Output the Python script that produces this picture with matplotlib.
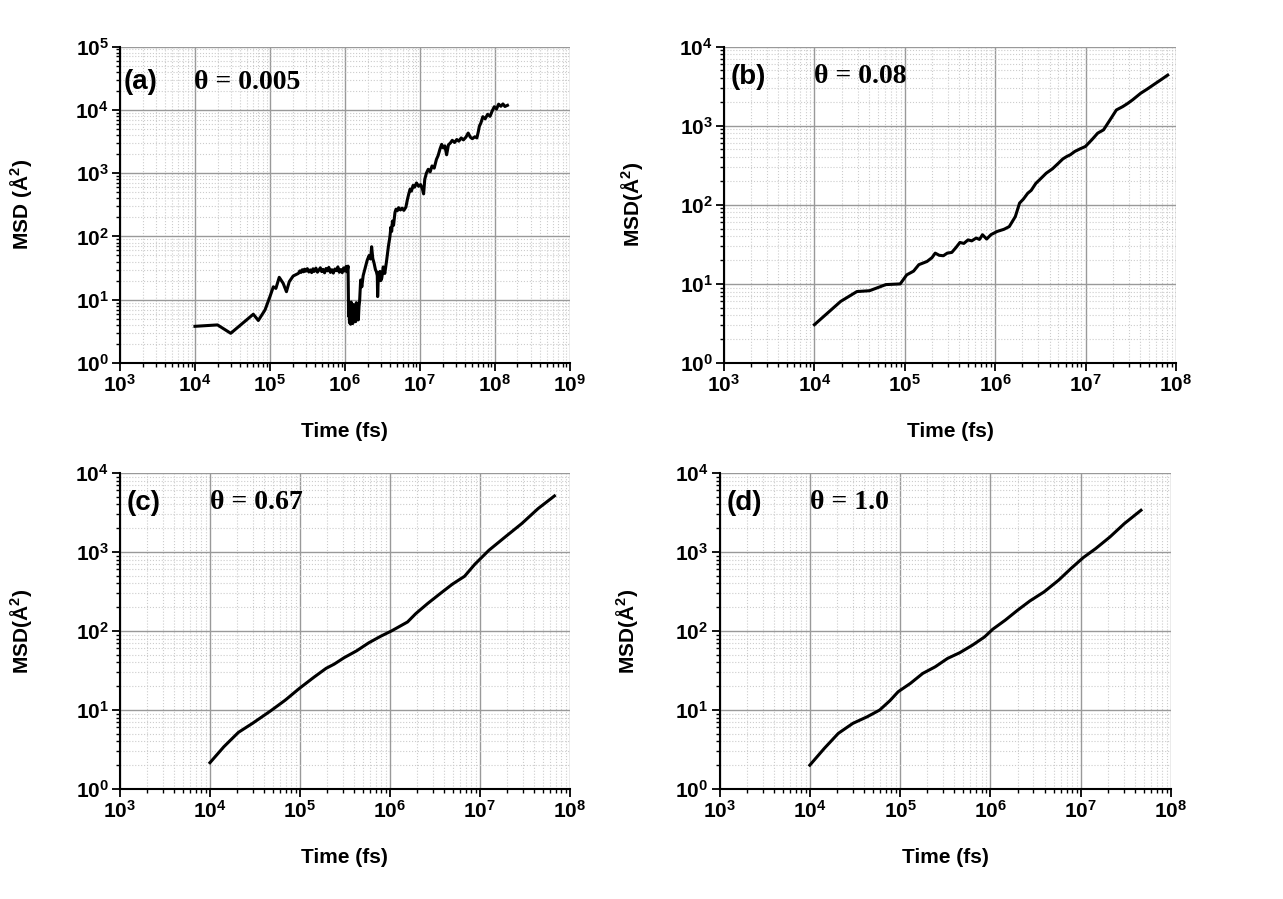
import numpy as np
import matplotlib.pyplot as plt
from matplotlib.ticker import LogLocator, FuncFormatter, NullFormatter

plt.rcParams['font.family'] = ['Liberation Sans', 'DejaVu Sans']
plt.rcParams['font.weight'] = 'bold'
plt.rcParams['mathtext.fontset'] = 'custom'
plt.rcParams['mathtext.rm'] = 'Liberation Sans:bold'
plt.rcParams['mathtext.bf'] = 'Liberation Sans:bold'
plt.rcParams['mathtext.it'] = 'Liberation Sans:bold'

# MSD curves, time in fs, MSD in A^2
t_a = [1.0e4, 2.0e4, 3.0e4, 6.0e4, 7.0e4, 8.6e4, 1.0e5, 1.11e5, 1.2e5, 1.33e5,
       1.5e5, 1.66e5, 1.81e5, 2.04e5, 2.2e5,
       2.4e5, 2.5e5, 2.6e5, 2.7e5, 2.8e5, 2.9e5, 3.0e5, 3.15e5, 3.3e5, 3.45e5,
       3.6e5, 3.75e5, 3.9e5, 4.1e5, 4.3e5, 4.5e5, 4.7e5, 4.9e5, 5.1e5, 5.35e5,
       5.6e5, 5.85e5, 6.1e5, 6.4e5, 6.7e5, 7.0e5, 7.35e5, 7.7e5, 8.05e5, 8.4e5,
       8.8e5, 9.2e5, 9.6e5, 1.0e6, 1.04e6, 1.07e6, 1.1e6,
       1.11e6, 1.12e6, 1.13e6, 1.15e6, 1.17e6, 1.19e6, 1.21e6, 1.23e6, 1.25e6, 1.27e6,
       1.3e6, 1.33e6, 1.36e6, 1.39e6, 1.42e6, 1.45e6, 1.48e6, 1.51e6, 1.54e6, 1.57e6,
       1.62e6, 1.68e6, 1.75e6, 1.85e6, 1.98e6, 2.1e6, 2.2e6, 2.27e6, 2.35e6, 2.45e6,
       2.55e6, 2.63e6, 2.7e6, 2.73e6, 2.8e6, 2.93e6, 3.0e6, 3.1e6, 3.24e6, 3.4e6,
       3.6e6, 3.8e6, 3.98e6, 4.1e6, 4.2e6, 4.3e6, 4.45e6, 4.65e6, 4.8e6, 5.0e6,
       5.2e6, 5.5e6, 5.8e6, 6.1e6, 6.5e6, 6.8e6, 7.1e6, 7.4e6, 7.7e6, 8.1e6,
       8.5e6, 9.0e6, 9.6e6, 1.02e7, 1.08e7, 1.12e7, 1.16e7, 1.22e7, 1.29e7, 1.37e7,
       1.45e7, 1.55e7, 1.66e7, 1.75e7, 1.85e7, 1.95e7, 2.05e7, 2.15e7, 2.27e7, 2.4e7,
       2.55e7, 2.7e7, 2.9e7, 3.1e7, 3.3e7, 3.55e7, 3.8e7, 4.1e7, 4.4e7, 4.7e7,
       5.0e7, 5.4e7, 5.75e7, 6.0e7, 6.2e7, 6.5e7, 6.9e7, 7.4e7, 8.0e7, 8.6e7,
       9.2e7, 9.8e7, 1.05e8, 1.12e8, 1.2e8, 1.28e8, 1.36e8, 1.47e8]
msd_a = [3.8, 4.0, 2.95, 5.9, 4.7, 6.9, 11.2, 16.0, 15.1, 22.6,
         18.2, 13.4, 19.3, 23.7, 24.8,
         26.1, 28.5, 27.0, 29.8, 27.6, 30.4, 28.2, 31.0, 27.4, 29.6,
         26.8, 30.8, 28.0, 31.6, 27.2, 29.4, 32.0, 27.8, 30.2, 26.6,
         31.2, 28.6, 32.4, 27.0, 29.8, 26.4, 30.6, 28.8, 33.0, 27.2,
         30.0, 26.8, 31.8, 28.4, 33.6, 27.6, 34.0,
         12.0, 5.5, 8.8, 4.3, 7.6, 4.1, 9.2, 4.6, 6.9, 4.2,
         8.4, 4.9, 7.2, 4.5, 9.0, 5.2, 6.4, 4.8, 7.8, 9.6,
         20.5, 16.0, 24.0, 31.0, 42.0, 50.0, 44.0, 68.8, 45.0, 37.6,
         30.0, 27.6, 24.0, 11.2, 26.0, 28.0, 20.0, 22.0, 33.0, 26.0,
         42.0, 70.0, 99.0, 140.0, 120.0, 175.0, 150.0, 240.0, 270.0, 255.0,
         285.0, 262.0, 280.0, 258.0, 290.0, 380.0, 470.0, 560.0, 520.0, 640.0,
         600.0, 700.0, 620.0, 660.0, 560.0, 470.0, 800.0, 1000.0, 1150.0, 1050.0,
         1300.0, 1200.0, 1650.0, 1900.0, 2400.0, 2850.0, 2500.0, 2700.0, 1950.0, 2800.0,
         3000.0, 3300.0, 3050.0, 3400.0, 3200.0, 3600.0, 3350.0, 3700.0, 4300.0, 3700.0,
         3500.0, 3750.0, 3600.0, 4500.0, 5500.0, 6200.0, 7800.0, 7200.0, 8500.0, 7900.0,
         9600.0, 11200.0, 10300.0, 12300.0, 11400.0, 12400.0, 11300.0, 11800.0]

t_b = [1.0e4, 1.95e4, 2.95e4, 4.07e4, 6.17e4, 8.9e4, 1.05e5, 1.25e5, 1.43e5, 1.76e5,
       2.0e5, 2.17e5, 2.4e5, 2.67e5, 2.95e5, 3.31e5, 3.7e5, 4.07e5, 4.5e5, 5.01e5,
       5.5e5, 6.17e5, 6.7e5, 7.24e5, 8.04e5, 9.0e5, 1.05e6, 1.25e6, 1.43e6, 1.67e6,
       1.86e6, 2.05e6, 2.29e6, 2.5e6, 2.82e6, 3.2e6, 3.67e6, 4.3e6, 5.01e6, 5.6e6,
       6.17e6, 6.8e6, 7.59e6, 8.7e6, 9.95e6, 1.17e7, 1.36e7, 1.58e7, 1.86e7, 2.19e7,
       2.57e7, 2.9e7, 3.31e7, 4.07e7, 4.8e7, 5.62e7, 6.8e7, 8.1e7]
msd_b = [3.05, 6.0, 8.0, 8.2, 9.8, 10.0, 13.0, 14.5, 17.5, 19.2,
         21.5, 24.5, 23.0, 22.7, 24.5, 25.0, 29.0, 33.4, 32.5, 36.0,
         35.0, 38.0, 36.5, 41.8, 36.9, 42.0, 46.0, 49.0, 53.0, 71.0,
         105.0, 118.0, 140.0, 152.0, 187.0, 215.0, 251.0, 285.0, 336.0, 380.0,
         407.0, 430.0, 472.0, 510.0, 546.0, 662.0, 804.0, 886.0, 1180.0, 1580.0,
         1740.0, 1900.0, 2120.0, 2570.0, 2900.0, 3280.0, 3800.0, 4360.0]

t_c = [1.0e4, 1.43e4, 2.07e4, 2.97e4, 4.75e4, 6.86e4, 9.89e4, 1.42e5, 1.95e5, 2.4e5,
       3.11e5, 4.26e5, 5.82e5, 7.94e5, 1.04e6, 1.57e6, 1.94e6, 2.63e6, 3.63e6, 4.94e6,
       6.76e6, 8.79e6, 1.26e7, 1.91e7, 2.92e7, 4.43e7, 6.73e7]
msd_c = [2.15, 3.43, 5.2, 6.77, 9.78, 13.3, 18.8, 25.8, 33.6, 38.0,
         46.0, 56.0, 70.8, 86.0, 100.0, 130.0, 166.0, 223.0, 298.0, 391.0,
         493.0, 700.0, 1052.0, 1550.0, 2290.0, 3540.0, 5120.0]

t_d = [1.0e4, 1.45e4, 2.07e4, 3.0e4, 4.32e4, 5.93e4, 7.71e4, 9.51e4, 1.3e5, 1.78e5,
       2.45e5, 3.35e5, 4.57e5, 6.31e5, 8.61e5, 1.06e6, 1.46e6, 2.0e6, 2.74e6, 3.94e6,
       5.7e6, 7.8e6, 1.07e7, 1.46e7, 2.11e7, 3.05e7, 4.65e7]
msd_d = [2.0, 3.27, 5.06, 6.77, 8.2, 9.97, 13.1, 17.0, 21.7, 29.0,
         35.2, 44.9, 53.0, 66.0, 84.0, 105.0, 137.0, 183.0, 240.0, 313.0,
         440.0, 617.0, 850.0, 1100.0, 1550.0, 2290.0, 3370.0]

labels = ['(a)', '(b)', '(c)', '(d)']
thetas = ['θ = 0.005', 'θ = 0.08', 'θ = 0.67', 'θ = 1.0']
ylabels = ['MSD (Å$^{2}$)', 'MSD(Å$^{2}$)', 'MSD(Å$^{2}$)', 'MSD(Å$^{2}$)']
xmax = [1e9, 1e8, 1e8, 1e8]
ymax = [1e5, 1e4, 1e4, 1e4]
series = [(t_a, msd_a), (t_b, msd_b), (t_c, msd_c), (t_d, msd_d)]

fig = plt.figure(figsize=(12.83, 8.99), dpi=100)
rects = [[0.0935, 0.5962, 0.3507, 0.352],
         [0.5643, 0.5962, 0.3523, 0.352],
         [0.0935, 0.1224, 0.3507, 0.3515],
         [0.5608, 0.1224, 0.3519, 0.3515]]
lab_pos = [(0.009, 0.888, 0.164), (0.0155, 0.905, 0.199),
           (0.0156, 0.905, 0.2), (0.0166, 0.905, 0.2)]

def sci(v, pos):
    return r'$\mathbf{10^{%d}}$' % int(round(np.log10(v)))

for i in range(4):
    ax = fig.add_axes(rects[i])
    t, m = series[i]
    ax.plot(t, m, color='black', lw=2.2, zorder=3)
    ax.set_xscale('log')
    ax.set_yscale('log')
    ax.set_xlim(1e3, xmax[i])
    ax.set_ylim(1, ymax[i])
    ax.xaxis.set_major_locator(LogLocator(base=10, numticks=20))
    ax.yaxis.set_major_locator(LogLocator(base=10, numticks=20))
    ax.xaxis.set_minor_locator(LogLocator(base=10, subs=np.arange(2, 10), numticks=50))
    ax.yaxis.set_minor_locator(LogLocator(base=10, subs=np.arange(2, 10), numticks=50))
    ax.xaxis.set_major_formatter(FuncFormatter(sci))
    ax.yaxis.set_major_formatter(FuncFormatter(sci))
    ax.xaxis.set_minor_formatter(NullFormatter())
    ax.yaxis.set_minor_formatter(NullFormatter())
    ax.grid(which='major', color='#999999', lw=1.0, ls='-')
    ax.grid(which='minor', color='#cccccc', lw=0.8, ls=':')
    ax.set_axisbelow(True)
    for s in ['top', 'right']:
        ax.spines[s].set_visible(False)
    for s in ['left', 'bottom']:
        ax.spines[s].set_linewidth(1.5)
    ax.tick_params(which='major', direction='out', length=6, width=1.3, labelsize=15, pad=2)
    ax.tick_params(which='minor', direction='out', length=3, width=1.0)
    ax.set_xlabel('Time (fs)', fontsize=15, fontweight='bold')
    ax.set_ylabel(ylabels[i], fontsize=15, fontweight='bold')
    ax.xaxis.set_label_coords(0.5, -0.186)
    ax.yaxis.set_label_coords(-0.19 if i % 2 == 0 else -0.175, 0.5)
    lx, ly, tx = lab_pos[i]
    ax.text(lx, ly, labels[i], transform=ax.transAxes, fontsize=20,
            fontweight='bold', va='center', ha='left')
    ax.text(tx, ly, thetas[i], transform=ax.transAxes, fontsize=20,
            fontweight='bold', family='Liberation Serif', va='center', ha='left')

fig.savefig('out.png', dpi=100)
